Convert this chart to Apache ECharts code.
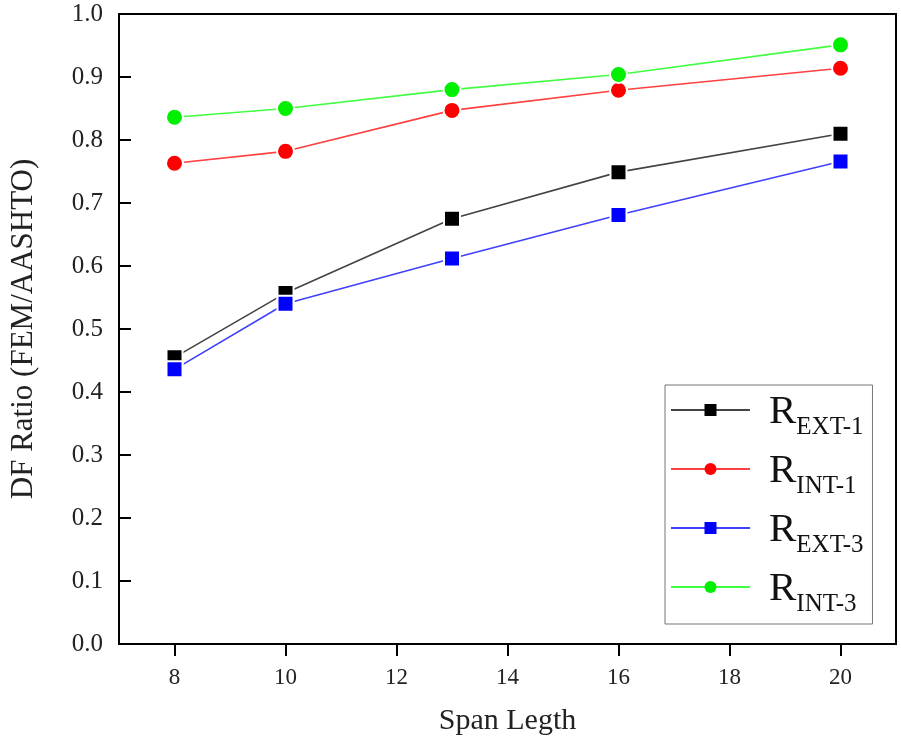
<!DOCTYPE html>
<html>
<head>
<meta charset="utf-8">
<script src="https://cdn.jsdelivr.net/npm/echarts@6/dist/echarts.min.js"></script>
<style>html,body{margin:0;padding:0;background:#fff;}#c{width:901px;height:741px;}</style>
</head>
<body>
<div id="c"></div>
<script>
var spans = [8, 10, 13, 16, 20];
var xTicks = [8, 10, 12, 14, 16, 18, 20];
var rExt1 = [0.455, 0.557, 0.675, 0.749, 0.810];
var rInt1 = [0.763, 0.782, 0.847, 0.879, 0.914];
var rExt3 = [0.436, 0.540, 0.612, 0.681, 0.766];
var rInt3 = [0.836, 0.850, 0.880, 0.904, 0.951];

function pairs(vals) { return spans.map(function (x, i) { return [x, vals[i]]; }); }

var serif = 'Liberation Serif';
var chart = echarts.init(document.getElementById('c'), null, { renderer: 'canvas' });

function mk(name, vals, color, lineColor, symbol, size) {
  return {
    name: name, type: 'line', data: pairs(vals),
    symbol: symbol, symbolSize: size,
    itemStyle: { color: color, borderColor: '#fff', borderWidth: 2 },
    lineStyle: { color: lineColor, width: 1.6 },
    emphasis: { disabled: true }, z: 3
  };
}

chart.setOption({
  animation: false,
  backgroundColor: '#fff',
  grid: { left: 116, right: 5, top: 14, bottom: 97, show: true, borderColor: '#000', borderWidth: 2, backgroundColor: 'transparent' },
  xAxis: {
    type: 'value', min: 7, max: 21,
    name: 'Span Legth', nameLocation: 'middle', nameGap: 62,
    nameTextStyle: { fontFamily: serif, fontSize: 30, color: '#222' },
    axisLine: { show: true, lineStyle: { color: '#000', width: 2 } },
    axisTick: { show: true, inside: false, length: 12, customValues: xTicks, lineStyle: { color: '#000', width: 2 } },
    axisLabel: { customValues: xTicks, margin: 22, fontFamily: serif, fontSize: 23, color: '#222' },
    splitLine: { show: false }
  },
  yAxis: {
    type: 'value', min: 0, max: 1, interval: 0.1,
    name: 'DF Ratio (FEM/AASHTO)', nameLocation: 'middle', nameGap: 80,
    nameTextStyle: { fontFamily: serif, fontSize: 31, color: '#222' },
    axisLine: { show: true, lineStyle: { color: '#000', width: 2 } },
    axisTick: { show: true, inside: true, length: 12, lineStyle: { color: '#000', width: 2 } },
    axisLabel: { margin: 16, fontFamily: serif, fontSize: 25, color: '#222', formatter: function (v) { return v.toFixed(1); } },
    splitLine: { show: false }
  },
  legend: {
    orient: 'vertical', left: 665, top: 385,
    itemWidth: 79, itemHeight: 15, itemGap: 4,
    padding: [7, 9, 0, 5],
    borderColor: '#777', borderWidth: 1, backgroundColor: '#fff',
    itemStyle: { borderWidth: 0 },
    data: ['EXT-1', 'INT-1', 'EXT-3', 'INT-3'],
    formatter: function (n) { return '{r|R}{s|' + n + '}'; },
    textStyle: {
      fontFamily: serif, color: '#111',
      rich: {
        r: { fontFamily: serif, fontSize: 41, lineHeight: 36, padding: [0, 0, 14, 14], verticalAlign: 'top', color: '#111' },
        s: { fontFamily: serif, fontSize: 25, lineHeight: 22, padding: [23, 0, 0, 0], verticalAlign: 'top', color: '#111' }
      }
    }
  },
  series: [
    mk('EXT-1', rExt1, '#000000', '#444444', 'rect', 16),
    mk('INT-1', rInt1, '#ff0000', '#ff4040', 'circle', 17),
    mk('EXT-3', rExt3, '#0000ff', '#4040ff', 'rect', 16),
    mk('INT-3', rInt3, '#00f000', '#40ff40', 'circle', 17)
  ]
});
</script>
</body>
</html>
